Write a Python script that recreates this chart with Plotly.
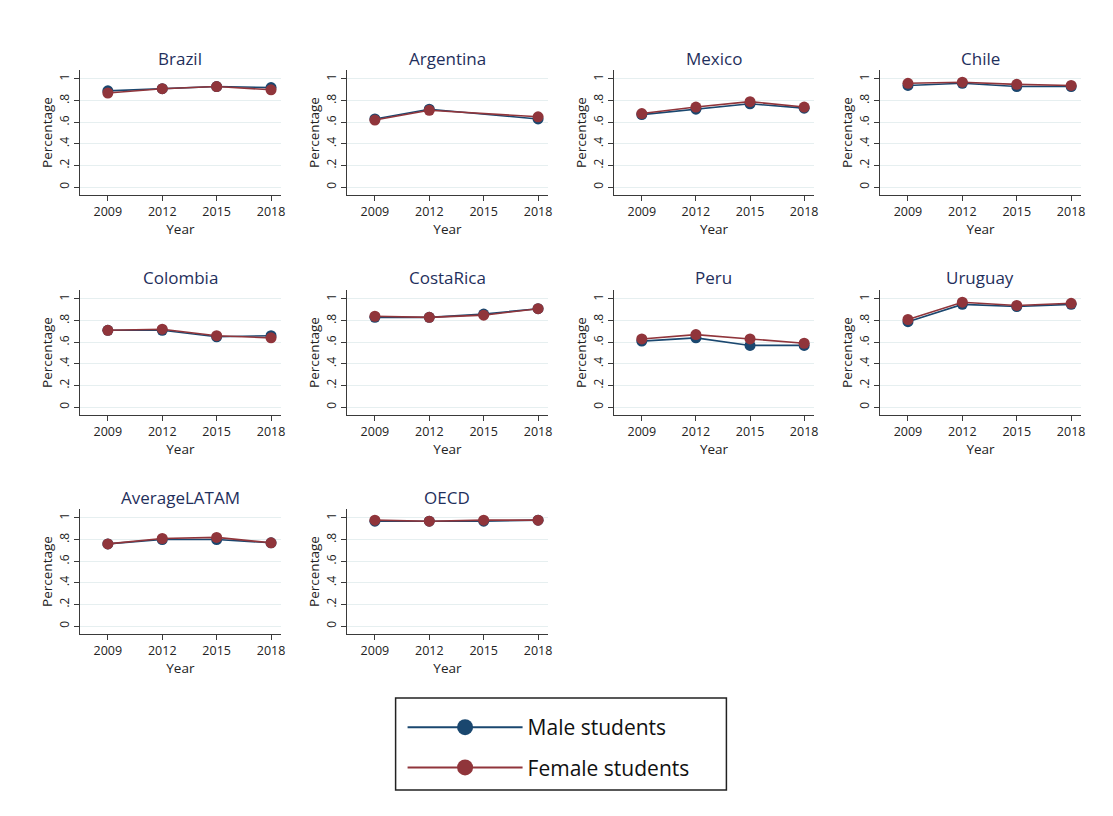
import plotly.graph_objects as go

W, H = 1113, 816
OFF = 8  # page body margin

years = [2009, 2012, 2015, 2018]
countries = ["Brazil", "Argentina", "Mexico", "Chile", "Colombia", "CostaRica",
             "Peru", "Uruguay", "AverageLATAM", "OECD"]

male_brazil = [0.89, 0.91, 0.93, 0.92]
female_brazil = [0.87, 0.91, 0.93, 0.90]
male_argentina = [0.63, 0.72, None, 0.63]
female_argentina = [0.62, 0.71, None, 0.65]
male_mexico = [0.67, 0.72, 0.77, 0.73]
female_mexico = [0.68, 0.74, 0.79, 0.74]
male_chile = [0.94, 0.96, 0.93, 0.93]
female_chile = [0.96, 0.97, 0.95, 0.94]
male_colombia = [0.71, 0.71, 0.65, 0.66]
female_colombia = [0.71, 0.72, 0.66, 0.64]
male_costarica = [0.83, 0.83, 0.86, 0.91]
female_costarica = [0.84, 0.83, 0.85, 0.91]
male_peru = [0.61, 0.64, 0.57, 0.57]
female_peru = [0.63, 0.67, 0.63, 0.59]
male_uruguay = [0.79, 0.95, 0.93, 0.95]
female_uruguay = [0.81, 0.97, 0.94, 0.96]
male_latam = [0.76, 0.80, 0.80, 0.77]
female_latam = [0.76, 0.81, 0.82, 0.77]
male_oecd = [0.97, 0.97, 0.97, 0.98]
female_oecd = [0.98, 0.97, 0.98, 0.98]

male = [male_brazil, male_argentina, male_mexico, male_chile, male_colombia,
        male_costarica, male_peru, male_uruguay, male_latam, male_oecd]
female = [female_brazil, female_argentina, female_mexico, female_chile, female_colombia,
          female_costarica, female_peru, female_uruguay, female_latam, female_oecd]

y_ticks = [0, 0.2, 0.4, 0.6, 0.8, 1]
y_ticktext = ["0", ".2", ".4", ".6", ".8", "1"]

MALE_C = "#1a476f"
FEMALE_C = "#90353b"
FONT = "Open Sans"
TITLE_C = "#1f2f5c"
AX_C = "#3a3a3a"

col_left = [80, 348, 616, 883]
col_right = [282, 550, 817, 1085]
row_top = [70, 290, 509]
row_bot = [195, 415, 634]


def px_x(v):
    return (v - OFF) / W


def px_y(v):
    return 1 - (v - OFF) / H


fig = go.Figure()
layout = dict(width=W, height=H, margin=dict(l=0, r=0, t=0, b=0),
              paper_bgcolor="white", plot_bgcolor="white",
              font=dict(family=FONT, color="#222222"), annotations=[], shapes=[])

for i, name in enumerate(countries):
    r, c = divmod(i, 4)
    n = i + 1
    xa = "x" if n == 1 else f"x{n}"
    ya = "y" if n == 1 else f"y{n}"
    fig.add_trace(go.Scatter(x=years, y=male[i], xaxis=xa, yaxis=ya, mode="lines+markers",
                             line=dict(color=MALE_C, width=1.6), marker=dict(color=MALE_C, size=11),
                             connectgaps=True, showlegend=False, name="Male students"))
    fig.add_trace(go.Scatter(x=years, y=female[i], xaxis=xa, yaxis=ya, mode="lines+markers",
                             line=dict(color=FEMALE_C, width=1.6), marker=dict(color=FEMALE_C, size=11),
                             connectgaps=True, showlegend=False, name="Female students"))
    xd = [px_x(col_left[c]), px_x(col_right[c])]
    yd = [px_y(row_bot[r]), px_y(row_top[r])]
    layout["xaxis" if n == 1 else f"xaxis{n}"] = dict(
        domain=xd, anchor=ya, range=[2007.45, 2018.55], tickvals=years,
        showgrid=False, zeroline=False, showline=True, linecolor=AX_C, linewidth=1,
        ticks="outside", ticklen=5, tickcolor=AX_C, tickfont=dict(size=12.5, color="#222"),
        title=dict(text="Year", font=dict(size=13.5, color="#222"), standoff=0))
    layout["yaxis" if n == 1 else f"yaxis{n}"] = dict(
        domain=yd, anchor=xa, range=[-0.074, 1.083], tickvals=y_ticks, ticktext=y_ticktext,
        tickangle=-90, showgrid=True, gridcolor="#e6eff0", gridwidth=1, zeroline=False,
        showline=True, linecolor=AX_C, linewidth=1, ticks="outside", ticklen=5, tickcolor=AX_C,
        tickfont=dict(size=12, color="#222"),
        title=dict(text="Percentage", font=dict(size=13.5, color="#222"), standoff=0))
    layout["annotations"].append(dict(
        text=name, x=(xd[0] + xd[1]) / 2, y=px_y(row_top[r] - 12), xref="paper", yref="paper",
        xanchor="center", yanchor="middle", showarrow=False,
        font=dict(size=17, color=TITLE_C, family=FONT)))

# legend entries
fig.add_trace(go.Scatter(x=[None], y=[None], mode="lines+markers", name="Male students",
                         line=dict(color=MALE_C, width=2), marker=dict(color=MALE_C, size=16),
                         legendgroup="m", showlegend=True))
fig.add_trace(go.Scatter(x=[None], y=[None], mode="lines+markers", name="Female students",
                         line=dict(color=FEMALE_C, width=2), marker=dict(color=FEMALE_C, size=16),
                         legendgroup="f", showlegend=True))

# legend frame
layout["shapes"].append(dict(type="rect", xref="paper", yref="paper",
                             x0=px_x(397), x1=px_x(729), y0=px_y(790), y1=px_y(698),
                             line=dict(color="#222", width=1.5), fillcolor="rgba(0,0,0,0)"))

layout["legend"] = dict(x=px_x(404), y=px_y(707), xanchor="left", yanchor="top",
                        borderwidth=0, bgcolor="rgba(0,0,0,0)",
                        font=dict(size=21, color="#111", family=FONT),
                        itemwidth=115, traceorder="grouped", tracegroupgap=10)
fig.update_layout(**layout)
fig.write_html("out.html")
